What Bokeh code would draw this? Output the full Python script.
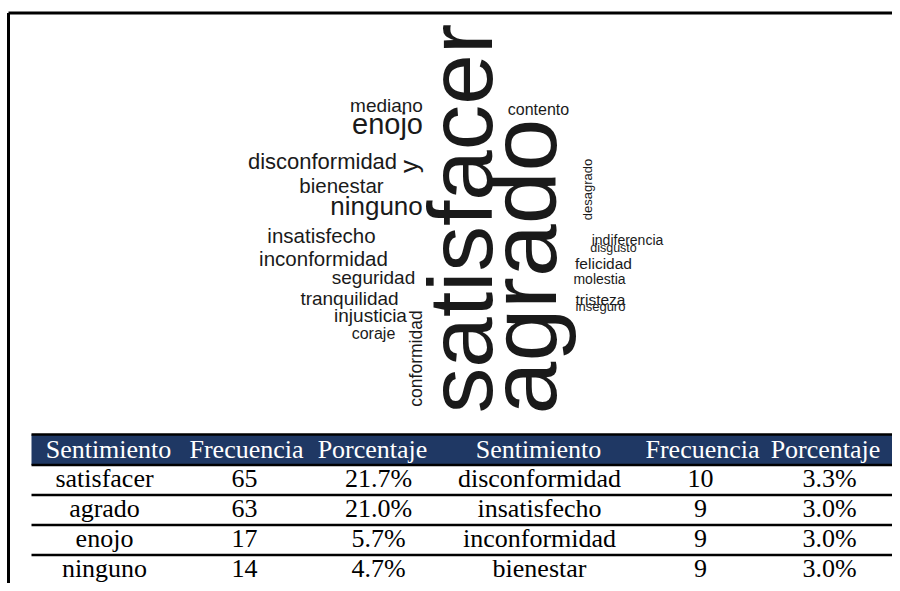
import math
from bokeh.plotting import figure
from bokeh.models import Range1d, ColumnDataSource
from bokeh.embed import file_html
from bokeh.resources import INLINE
from bokeh.core.properties import value

# ---------------- data (table) ----------------
headers = ["Sentimiento", "Frecuencia", "Porcentaje"]
sent_a = ["satisfacer", "agrado", "enojo", "ninguno"]
freq_a = [65, 63, 17, 14]
pct_a = ["21.7%", "21.0%", "5.7%", "4.7%"]
sent_b = ["disconformidad", "insatisfecho", "inconformidad", "bienestar"]
freq_b = [10, 9, 9, 9]
pct_b = ["3.3%", "3.0%", "3.0%", "3.0%"]

# ---------------- data (word cloud words) ----------------
cloud_words = ["satisfacer", "agrado", "enojo", "ninguno", "disconformidad",
               "insatisfecho", "inconformidad", "bienestar", "mediano",
               "seguridad", "tranquilidad", "injusticia", "coraje",
               "conformidad", "y", "contento", "desagrado", "indiferencia",
               "disgusto", "felicidad", "molestia", "tristeza", "inseguro"]

# ---------------- layout of the word cloud (reference pixels) ----------------
# (x, y, font px, vertical?)  horizontal: x=center, y=baseline ; vertical: x=baseline, y=center
cloud_layout = [
    (492, 218, 91, True), (556, 266, 95, True), (387, 134, 29, False),
    (376, 215, 26, False), (322, 169, 22, False), (321, 242, 20.5, False),
    (323, 265, 20.5, False), (341, 192, 20.5, False), (386, 112, 19, False),
    (373, 284, 19, False), (349, 305, 19, False), (370, 322, 19, False),
    (373, 339, 16, False), (422, 358, 17.5, True), (418, 166, 26, True),
    (538, 115, 16, False), (592, 189, 13, True), (627, 244, 14, False),
    (613, 252, 12.5, False), (603, 268, 15.5, False), (599, 283, 14, False),
    (600, 304, 15.5, False), (600, 311, 13, False),
]
BASE_K = 0.35  # baseline correction (fraction of font size)

W, H = 892, 583
p = figure(width=W, height=H, x_range=Range1d(0, W), y_range=Range1d(-H, 0),
           output_backend="svg", toolbar_location=None, min_border=0,
           x_axis_location=None, y_axis_location=None)
p.grid.visible = False
p.outline_line_color = None
p.background_fill_color = "white"
p.border_fill_color = "white"

# frame (left and top)
p.line(x=[8, 8], y=[-12.5, -600], line_color="black", line_width=3)
p.line(x=[8, 905], y=[-12.5, -12.5], line_color="black", line_width=3)

# word cloud
hx, hy, hs, ht = [], [], [], []
vx, vy, vs, vt = [], [], [], []
for w, (x, y, s, vert) in zip(cloud_words, cloud_layout):
    if vert:
        vx.append(x - BASE_K * s); vy.append(-y); vs.append(f"{s}px"); vt.append(w)
    else:
        hx.append(x); hy.append(-(y - BASE_K * s)); hs.append(f"{s}px"); ht.append(w)
p.text(x="x", y="y", text="t", text_font_size="fs",
       source=ColumnDataSource(dict(x=hx, y=hy, t=ht, fs=hs)),
       text_font=value("Liberation Sans"), text_color="#1a1a1a",
       text_align="center", text_baseline="alphabetic")
p.text(x="x", y="y", text="t", text_font_size="fs", angle=math.pi / 2,
       source=ColumnDataSource(dict(x=vx, y=vy, t=vt, fs=vs)),
       text_font=value("Liberation Sans"), text_color="#1a1a1a",
       text_align="center", text_baseline="alphabetic")

# table
tbl_left, tbl_right = 31, 894
header_top, header_bot = 434, 464.5
row_h = 30
navy = "#1f3864"
p.quad(left=[tbl_left], right=[tbl_right], top=[-header_top], bottom=[-header_bot],
       fill_color=navy, line_color=None)
line_ys = [header_top, header_bot] + [header_bot + row_h * (i + 1) for i in range(3)]
p.segment(x0=[tbl_left] * len(line_ys), x1=[tbl_right] * len(line_ys),
          y0=[-v for v in line_ys], y1=[-v for v in line_ys],
          line_color="black", line_width=2.5)

fs_tbl = 26
col_x_head = [108, 246, 372, 538, 702, 825]
col_x_body = [104, 244, 378, 539, 700, 829]
serif = value("Liberation Serif")
p.text(x=col_x_head, y=[-(header_bot - 6.5 - BASE_K * fs_tbl)] * 6, text=headers * 2,
       text_font=serif, text_font_size=f"{fs_tbl}px", text_color="white",
       text_align="center", text_baseline="alphabetic")

bx, by, bt = [], [], []
for r in range(4):
    base = -(header_bot + row_h * (r + 1) - 7.5 - BASE_K * fs_tbl)
    vals = [sent_a[r], str(freq_a[r]), pct_a[r], sent_b[r], str(freq_b[r]), pct_b[r]]
    for c in range(6):
        bx.append(col_x_body[c]); by.append(base); bt.append(vals[c])
p.text(x=bx, y=by, text=bt, text_font=serif, text_font_size=f"{fs_tbl}px",
       text_color="black", text_align="center", text_baseline="alphabetic")

open("out.html", "w").write(file_html(p, INLINE))
